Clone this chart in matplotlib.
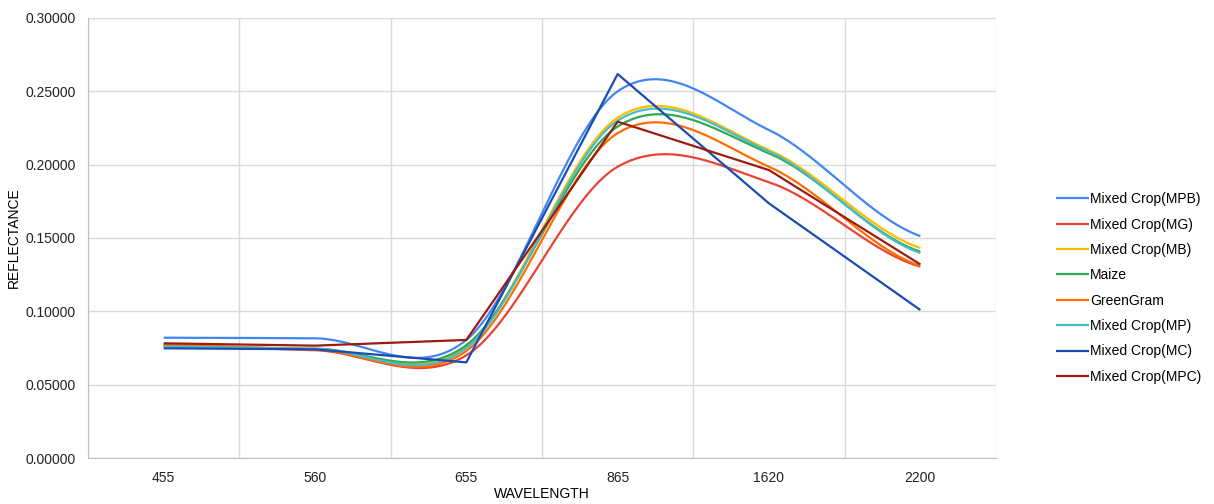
import numpy as np
import matplotlib.pyplot as plt
from matplotlib.ticker import FormatStrFormatter, MultipleLocator

plt.rcParams['font.family'] = ['Liberation Sans', 'DejaVu Sans']

# 波长类别
wavelengths = ['455', '560', '655', '865', '1620', '2200']

# 各作物反射率
mpb = [0.0820, 0.0816, 0.0805, 0.2500, 0.2236, 0.1513]
mg = [0.0765, 0.0735, 0.0700, 0.1986, 0.1880, 0.1305]
mb = [0.0770, 0.0745, 0.0760, 0.2320, 0.2100, 0.1432]
maize = [0.0765, 0.0745, 0.0770, 0.2260, 0.2077, 0.1407]
greengram = [0.0770, 0.0740, 0.0730, 0.2215, 0.1986, 0.1310]
mp = [0.0760, 0.0745, 0.0750, 0.2300, 0.2089, 0.1398]
mc = [0.0748, 0.0741, 0.0652, 0.2618, 0.1736, 0.1009]
mpc = [0.0782, 0.0766, 0.0805, 0.2293, 0.1963, 0.1320]

series = [
    ('Mixed Crop(MPB)', mpb, '#4285F4', True),
    ('Mixed Crop(MG)', mg, '#EA4335', True),
    ('Mixed Crop(MB)', mb, '#FBBC04', True),
    ('Maize', maize, '#34A853', True),
    ('GreenGram', greengram, '#FF6D01', True),
    ('Mixed Crop(MP)', mp, '#46BDC6', True),
    ('Mixed Crop(MC)', mc, '#1A4DB3', False),
    ('Mixed Crop(MPC)', mpc, '#9C1B11', False),
]


def smooth(y, n=40):
    """Catmull-Rom 平滑，类似表格软件的平滑线"""
    y = np.asarray(y, dtype=float)
    pts = np.concatenate([[y[0]], y, [y[-1]]])
    xs, ys = [], []
    for i in range(len(y) - 1):
        p0, p1, p2, p3 = pts[i], pts[i + 1], pts[i + 2], pts[i + 3]
        m1 = (p2 - p0) / 2
        m2 = (p3 - p1) / 2
        t = np.linspace(0, 1, n, endpoint=(i == len(y) - 2))
        h00 = 2 * t**3 - 3 * t**2 + 1
        h10 = t**3 - 2 * t**2 + t
        h01 = -2 * t**3 + 3 * t**2
        h11 = t**3 - t**2
        xs.append(i + t)
        ys.append(h00 * p1 + h10 * m1 + h01 * p2 + h11 * m2)
    return np.concatenate(xs), np.concatenate(ys)


fig = plt.figure(figsize=(12.14, 5.04), dpi=100)
ax = fig.add_axes([88 / 1214, 1 - 458 / 504, (996 - 88) / 1214, (458 - 18) / 504])

x = np.arange(len(wavelengths))
for label, vals, color, is_smooth in series:
    if is_smooth:
        sx, sy = smooth(vals)
    else:
        sx, sy = x, vals
    ax.plot(sx, sy, color=color, lw=1.6, label=label, solid_capstyle='butt')

ax.set_xlim(-0.5, len(wavelengths) - 0.5)
ax.set_ylim(0, 0.3)
ax.set_xticks(x)
ax.set_xticklabels(wavelengths)
ax.xaxis.set_minor_locator(MultipleLocator(1, offset=0.5))
ax.yaxis.set_major_locator(MultipleLocator(0.05))
ax.yaxis.set_major_formatter(FormatStrFormatter('%.5f'))
ax.grid(True, which='major', axis='y', color='#d9d9d9', lw=1)
ax.grid(True, which='minor', axis='x', color='#d9d9d9', lw=1)
ax.set_axisbelow(True)
ax.tick_params(which='both', length=0, labelsize=10, colors='#222222')
ax.tick_params(axis='x', pad=9)
ax.tick_params(axis='y', pad=9)
for side in ['top', 'right']:
    ax.spines[side].set_visible(False)
for side in ['left', 'bottom']:
    ax.spines[side].set_color('#bfbfbf')

# 坐标轴标题
fig.text(542 / 1214, 1 - 494 / 504, 'WAVELENGTH', ha='center', va='center', fontsize=10)
fig.text(14 / 1214, 1 - 238 / 504, 'REFLECTANCE', ha='center', va='center',
         rotation=90, fontsize=10)

fig.legend(loc='center left', bbox_to_anchor=(1043 / 1214, 1 - 288 / 504),
           frameon=False, fontsize=10, handlelength=2.4, handletextpad=0.1,
           labelspacing=0.82)

plt.savefig('out.png', dpi=100)
